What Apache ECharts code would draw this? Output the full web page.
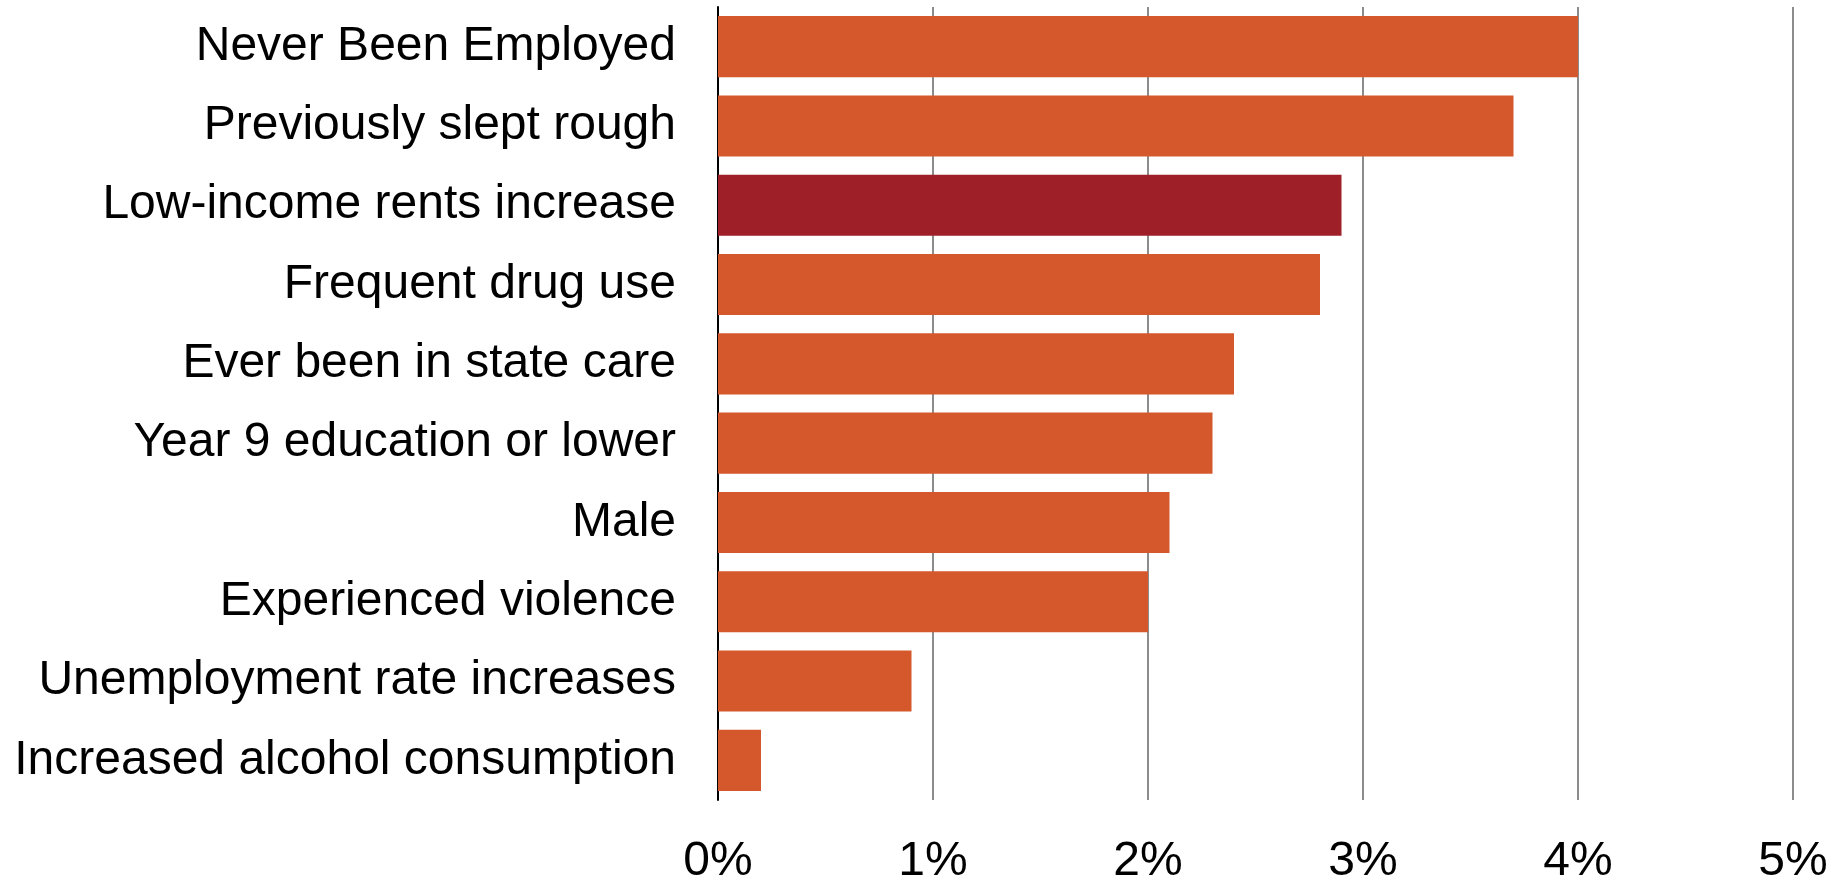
<!DOCTYPE html>
<html>
<head>
<meta charset="utf-8">
<script src="https://cdn.jsdelivr.net/npm/echarts@6/dist/echarts.min.js"></script>
<style>
  html, body { margin: 0; padding: 0; background: #ffffff; }
  #chart { width: 1843px; height: 876px; }
</style>
</head>
<body>
<div id="chart"></div>
<script>
// Risk factors, top to bottom
const categories = [
  'Never Been Employed',
  'Previously slept rough',
  'Low-income rents increase',
  'Frequent drug use',
  'Ever been in state care',
  'Year 9 education or lower',
  'Male',
  'Experienced violence',
  'Unemployment rate increases',
  'Increased alcohol consumption'
];
// Increase in probability, percentage points
const values = [4.0, 3.7, 2.9, 2.8, 2.4, 2.3, 2.1, 2.0, 0.9, 0.2];
// The structural factor drawn in a darker shade
const highlighted = ['Low-income rents increase'];
const tickValues = [0, 1, 2, 3, 4, 5];

const ORANGE = '#d5582c';
const DARK = '#9e1f28';
const FONT = "'Liberation Sans', Arial, sans-serif";

const chart = echarts.init(document.getElementById('chart'), null, { renderer: 'canvas' });

chart.setOption({
  animation: false,
  backgroundColor: '#ffffff',
  grid: {
    left: 718, right: 50, top: 7, bottom: 76,
    containLabel: false,
    outerBoundsMode: 'none'
  },
  xAxis: {
    type: 'value',
    min: tickValues[0],
    max: tickValues[tickValues.length - 1],
    interval: 1,
    axisLine: { show: false },
    axisTick: { show: false },
    axisLabel: {
      formatter: '{value}%',
      color: '#000000',
      fontFamily: FONT,
      fontSize: 48,
      margin: 38
    },
    splitLine: { show: true, lineStyle: { color: '#8c8c8c', width: 2 } }
  },
  yAxis: {
    type: 'category',
    data: categories,
    inverse: true,
    axisLine: { show: true, onZero: false, lineStyle: { color: '#000000', width: 2 } },
    axisTick: { show: false },
    axisLabel: {
      color: '#000000',
      fontFamily: FONT,
      fontSize: 48,
      margin: 42,
      padding: [7, 0, 0, 0]
    },
    splitLine: { show: false }
  },
  series: [{
    type: 'bar',
    barCategoryGap: '23%',
    data: values.map((v, i) => ({
      value: v,
      itemStyle: { color: highlighted.includes(categories[i]) ? DARK : ORANGE }
    })),
    z: 1
  }]
});
</script>
</body>
</html>
